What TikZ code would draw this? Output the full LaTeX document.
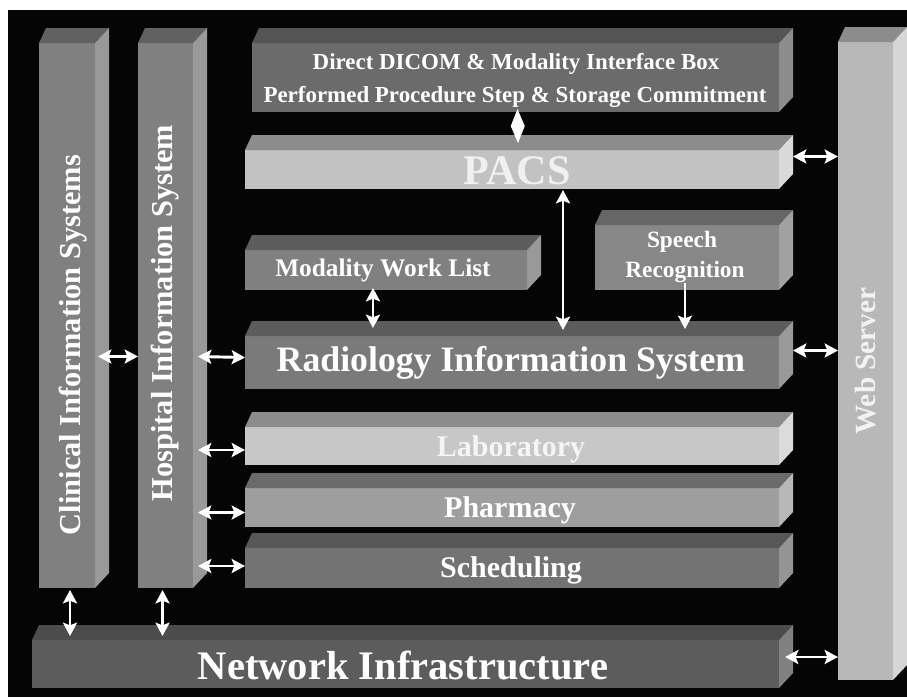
\documentclass[tikz,border=0pt]{standalone}
\usepackage{fontspec}
\setmainfont{Liberation Serif}
\usetikzlibrary{fit,calc,arrows.meta}
\definecolor{bgblack}{gray}{0.02}
\definecolor{gA}{gray}{0.50}\definecolor{gAt}{gray}{0.38}\definecolor{gAs}{gray}{0.60}
\definecolor{gDic}{gray}{0.42}\definecolor{gDict}{gray}{0.33}\definecolor{gDics}{gray}{0.55}
\definecolor{gPac}{gray}{0.76}\definecolor{gPact}{gray}{0.55}\definecolor{gPacs}{gray}{0.85}
\definecolor{gMwl}{gray}{0.50}\definecolor{gMwlt}{gray}{0.36}\definecolor{gMwls}{gray}{0.60}
\definecolor{gSp}{gray}{0.53}\definecolor{gSpt}{gray}{0.40}\definecolor{gSps}{gray}{0.63}
\definecolor{gRis}{gray}{0.48}\definecolor{gRist}{gray}{0.36}\definecolor{gRiss}{gray}{0.60}
\definecolor{gLab}{gray}{0.78}\definecolor{gLabt}{gray}{0.55}\definecolor{gLabs}{gray}{0.86}
\definecolor{gPh}{gray}{0.62}\definecolor{gPht}{gray}{0.42}\definecolor{gPhs}{gray}{0.72}
\definecolor{gSc}{gray}{0.45}\definecolor{gSct}{gray}{0.34}\definecolor{gScs}{gray}{0.58}
\definecolor{gNet}{gray}{0.36}\definecolor{gNett}{gray}{0.30}\definecolor{gNets}{gray}{0.50}
\definecolor{gWeb}{gray}{0.72}\definecolor{gWebt}{gray}{0.55}\definecolor{gWebs}{gray}{0.84}
\newcommand\mkcube[8]{%
  \node[fit={(#2,#3)(#4,#5)}, inner sep=0pt, outer sep=0pt, fill=#6] (#1) {};
  \fill[#7] (#1.north west) -- ++(7,-15) -- ($(#1.north east)+(14,-15)$) -- (#1.north east) -- cycle;
  \fill[#8] (#1.north east) -- ++(14,-15) -- ($(#1.south east)+(14,-15)$) -- (#1.south east) -- cycle;
}
\tikzset{
  arr/.style={white, line width=2.2pt, {Stealth[length=10pt,width=10.5pt,inset=2pt]}-{Stealth[length=10pt,width=10.5pt,inset=2pt]}},
  arrone/.style={white, line width=2.2pt, -{Stealth[length=10pt,width=10.5pt,inset=2pt]}},
  lbl/.style={text=white, font=\bfseries, inner sep=0pt},
}
\begin{document}
\begin{tikzpicture}[x=0.75pt,y=-0.75pt]
\useasboundingbox (0,0) rectangle (907,697);
\fill[bgblack] (8,10) rectangle (907,697);
% cubes
\mkcube{clin}{39}{43}{95}{588}{gA}{gAt}{gAs}
\mkcube{hosp}{138}{43}{193}{588}{gA}{gAt}{gAs}
\mkcube{dicom}{252}{43}{779}{112}{gDic}{gDict}{gDics}
\mkcube{pacs}{245}{150}{779}{189}{gPac}{gPact}{gPacs}
\mkcube{mwl}{245}{250}{527}{290}{gMwl}{gMwlt}{gMwls}
\mkcube{speech}{595}{225}{779}{290}{gSp}{gSpt}{gSps}
\mkcube{ris}{245}{336}{779}{389}{gRis}{gRist}{gRiss}
\mkcube{lab}{245}{427}{779}{465}{gLab}{gLabt}{gLabs}
\mkcube{pharm}{245}{488}{779}{527}{gPh}{gPht}{gPhs}
\mkcube{sched}{245}{548}{779}{588}{gSc}{gSct}{gScs}
\mkcube{net}{32}{640}{779}{688}{gNet}{gNett}{gNets}
\mkcube{web}{838}{42}{893}{680}{gWeb}{gWebt}{gWebs}
% labels
\node[lbl, rotate=90, font=\bfseries\fontsize{22.8}{26}\selectfont] (tclin) at (73,345) {Clinical Information Systems};
\node[lbl, rotate=90, font=\bfseries\fontsize{22.8}{26}\selectfont] (thosp) at (165,313) {Hospital Information System};
\node[lbl, rotate=90, text=white!90!gray, font=\bfseries\fontsize{22}{26}\selectfont] (tweb) at (866,361) {Web Server};
\node[lbl, font=\bfseries\fontsize{17.2}{20}\selectfont] (tdic1) at (516,64) {Direct DICOM \& Modality Interface Box};
\node[lbl, font=\bfseries\fontsize{17.2}{20}\selectfont] (tdic2) at (515,97) {Performed Procedure Step \& Storage Commitment};
\node[lbl, text=white!88!gray, font=\bfseries\fontsize{31.6}{36}\selectfont] (tpacs) at (517,171) {PACS};
\node[lbl, font=\bfseries\fontsize{19}{22}\selectfont] (tmwl) at (383,270) {Modality Work List};
\node[lbl, font=\bfseries\fontsize{17.5}{20}\selectfont] (tsp1) at (682,242) {Speech};
\node[lbl, font=\bfseries\fontsize{17.5}{20}\selectfont] (tsp2) at (685,272) {Recognition};
\node[lbl, font=\bfseries\fontsize{26.8}{30}\selectfont] (tris) at (511,363) {Radiology Information System};
\node[lbl, text=white!92!gray, font=\bfseries\fontsize{22.5}{26}\selectfont] (tlab) at (511,449) {Laboratory};
\node[lbl, font=\bfseries\fontsize{22.5}{26}\selectfont] (tph) at (510,510) {Pharmacy};
\node[lbl, font=\bfseries\fontsize{22.5}{26}\selectfont] (tsc) at (511,570) {Scheduling};
\node[lbl, font=\bfseries\fontsize{30.4}{34}\selectfont] (tnet) at (403,665) {Network Infrastructure};
% connectors
\coordinate (dtop) at ($(dicom.south)+(2,-3)$);
\coordinate (dbot) at ($(pacs.north)+(6,-7)$);
\fill[white] (dtop) -- ($(dtop)!0.5!(dbot)+(7,0)$) -- (dbot) -- ($(dtop)!0.5!(dbot)+(-7,0)$) -- cycle;
\draw[arr] ($(pacs.south)+(51,1)$) -- ($(ris.north)+(51,-6)$);
\draw[arr] ($(mwl.south)+(-13,-2)$) -- ($(mwl.south)+(-13,38)$);
\draw[arrone] ($(speech.south)+(-2,-7)$) -- ($(speech.south)+(-2,39)$);
\draw[arr] ($(clin.east)+(3,41)$) -- ($(hosp.west)+(0,41)$);
\draw[arr] ($(hosp.east)+(5,41)$) -- ($(ris.west)+(0,-5)$);
\draw[arr] ($(lab.west)+(-47,4)$) -- ($(lab.west)+(0,4)$);
\draw[arr] ($(pharm.west)+(-47,5)$) -- ($(pharm.west)+(0,5)$);
\draw[arr] ($(sched.west)+(-47,-2)$) -- ($(sched.west)+(0,-2)$);
\draw[arr] ($(pacs.east)+(14,-13)$) -- ($(web.west |- pacs.east)+(0,-13)$);
\draw[arr] ($(ris.east)+(14,-12)$) -- ($(web.west |- ris.east)+(0,-12)$);
\draw[arr] ($(net.east)+(6,-7)$) -- ($(web.west |- net.east)+(0,-7)$);
\draw[arr] ($(clin.south)+(3,2)$) -- ($(clin.south |- net.north)+(3,-4)$);
\draw[arr] ($(hosp.south)+(-3,2)$) -- ($(hosp.south |- net.north)+(-3,-4)$);
\end{tikzpicture}
\end{document}
